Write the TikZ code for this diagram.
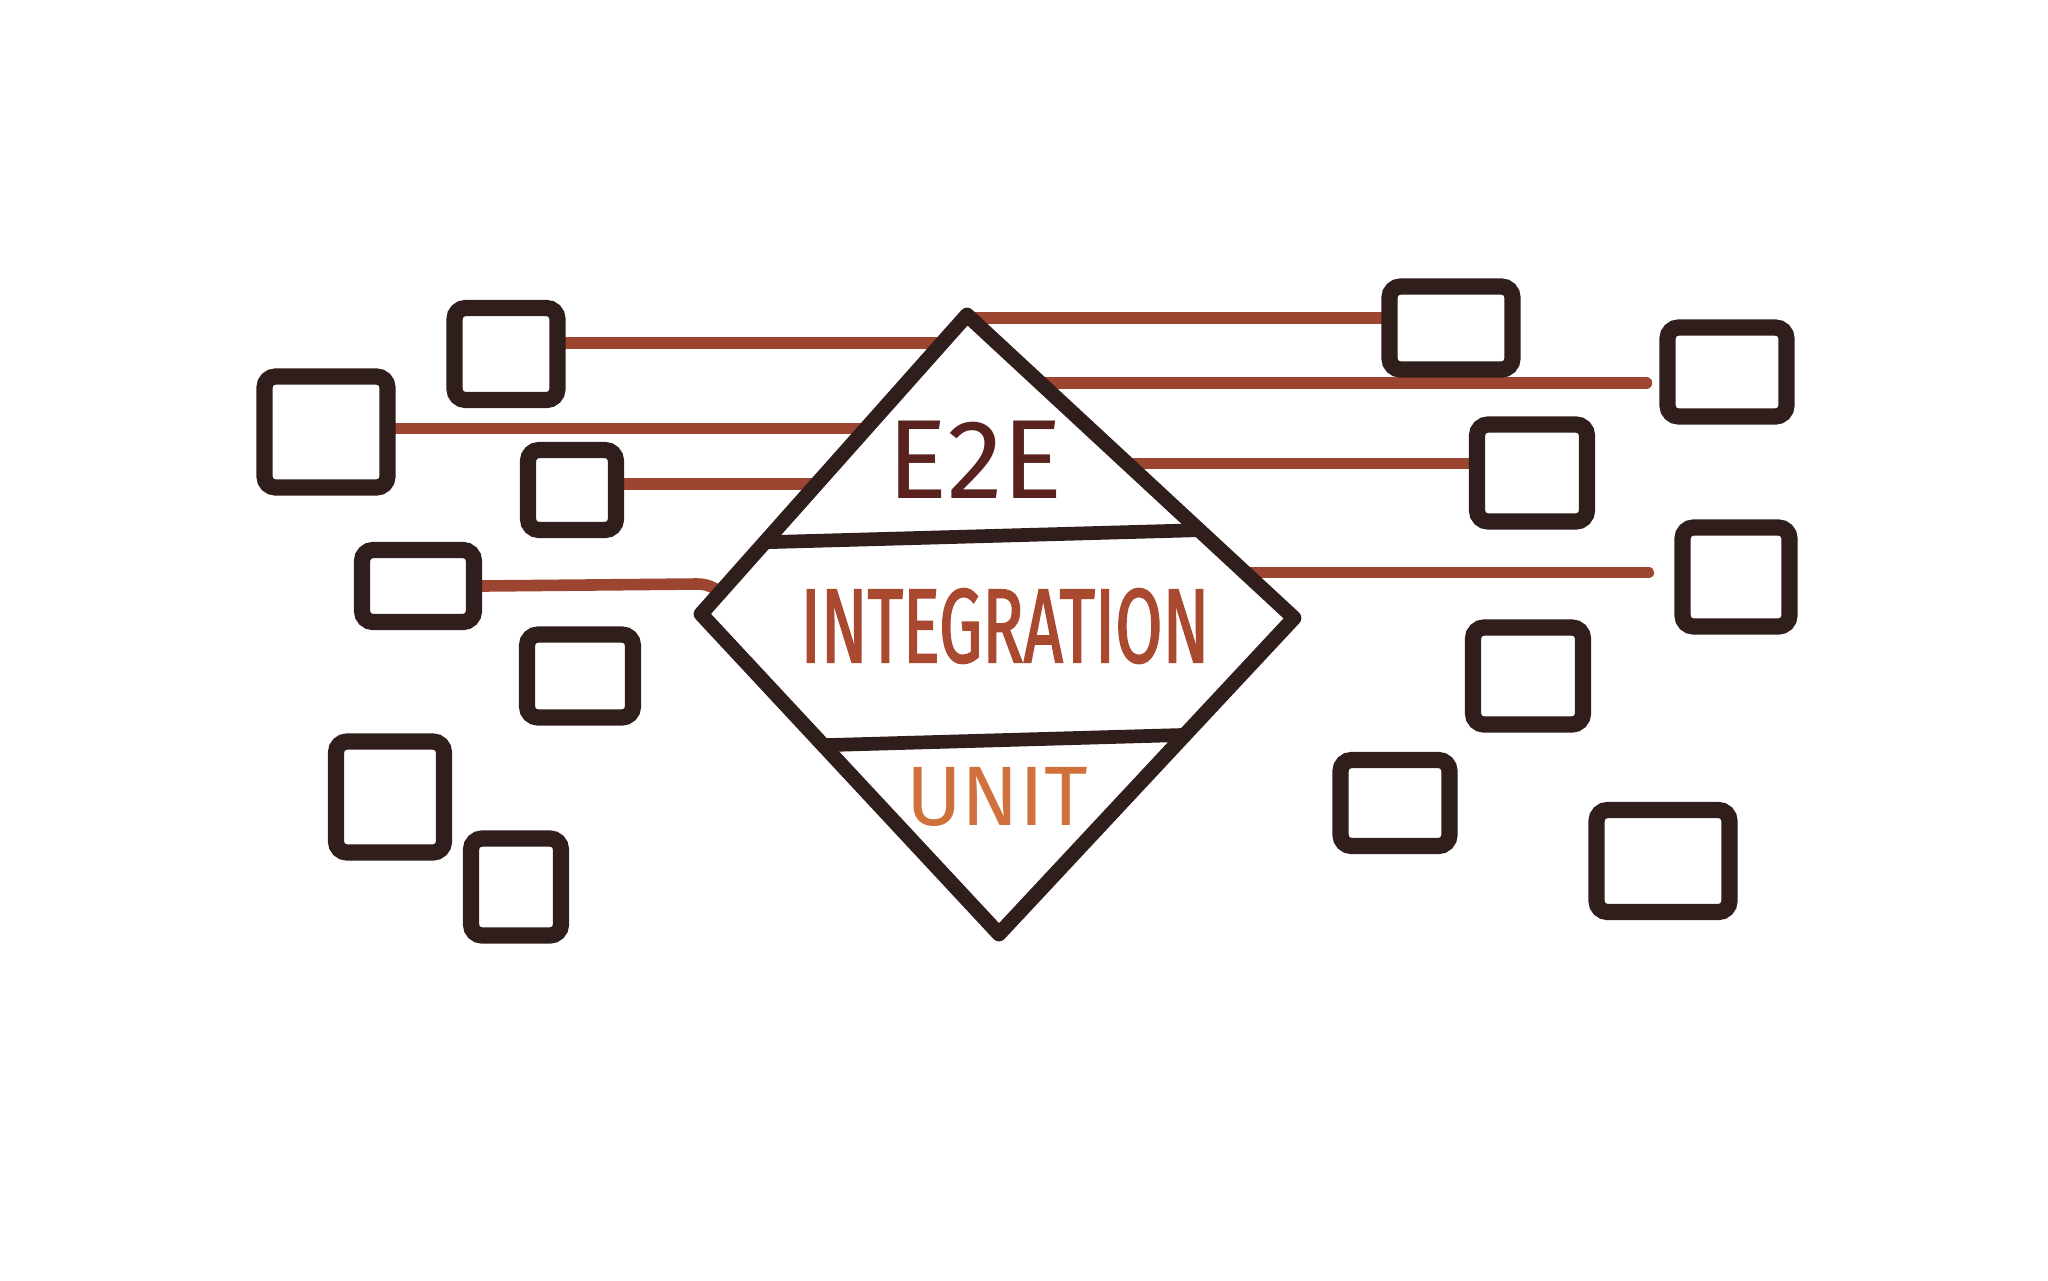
\documentclass[tikz,border=0pt]{standalone}
\usepackage{fontspec}
\setmainfont{Fira Sans}
\usepackage{tikz}
\usetikzlibrary{backgrounds,calc}
\definecolor{inkBrown}{HTML}{2F1E1C}
\definecolor{rustLine}{HTML}{9C4530}
\definecolor{e2eText}{HTML}{5A221E}
\definecolor{integText}{HTML}{A9492F}
\definecolor{unitText}{HTML}{D0703A}
\tikzset{
  testBox/.style={draw=inkBrown, line width=4.6pt, rounded corners=1.1mm, inner sep=0pt},
  testLink/.style={draw=rustLine, line width=3.3pt, line cap=round},
  testDiamond/.style={draw=inkBrown, line width=4.2pt, line join=round, line cap=round},
  testDivider/.style={draw=inkBrown, line width=3.9pt, line cap=round},
  testLevel/.style={inner sep=0pt, align=center}
}

\begin{document}
\begin{tikzpicture}[x=0.1mm, y=-0.1mm]
      \begin{scope}[on background layer]
        \fill[white] (0,0) rectangle (2048,1280);
      \end{scope}
      \useasboundingbox (0,0) rectangle (2048,1280);
      % pyramid corners
      \coordinate (dtop) at (967,315);
      \coordinate (dright) at (1294,618);
      \coordinate (dbottom) at (999,934);
      \coordinate (dleft) at (701,614);
      \draw[testDiamond] (dtop) -- (dright) -- (dbottom) -- (dleft) -- cycle;
      \draw[testDivider] ($(dtop)!0.76!(dleft)$) -- ($(dtop)!0.71!(dright)$);
      \draw[testDivider] ($(dleft)!0.41!(dbottom)$) -- ($(dright)!0.37!(dbottom)$);
      \node[testLevel, text=e2eText, font=\fontsize{32}{32}\selectfont] (e2e) at (975,460) {E2E};
      \node[testLevel, text=integText, font=\addfontfeature{FakeStretch=0.65,FakeBold=1.5}\fontsize{30}{30}\selectfont] (integration) at (1005,626) {INTEGRATION};
      \node[testLevel, text=unitText, font=\fontsize{24}{24}\selectfont] (unit) at (997,797) {UNIT};
      % left boxes
      \node[testBox, minimum width=10.3mm, minimum height=9.2mm] (l1) at (506,354) {};
      \node[testBox, minimum width=12.3mm, minimum height=11.1mm] (l2) at (326,432) {};
      \node[testBox, minimum width=8.8mm, minimum height=8mm] (l3) at (572,490) {};
      \node[testBox, minimum width=11.2mm, minimum height=7.2mm] (l4) at (418,586) {};
      \node[testBox, minimum width=10.6mm, minimum height=8.3mm] (l5) at (580,676) {};
      \node[testBox, minimum width=10.8mm, minimum height=11.1mm] (l6) at (390,797) {};
      \node[testBox, minimum width=9mm, minimum height=9.7mm] (l7) at (516,887) {};
      % right boxes
      \node[testBox, minimum width=12.3mm, minimum height=8.3mm] (r1) at (1451,328) {};
      \node[testBox, minimum width=11.9mm, minimum height=8.9mm] (r2) at (1727,372) {};
      \node[testBox, minimum width=11mm, minimum height=9.7mm] (r3) at (1532,473) {};
      \node[testBox, minimum width=10.7mm, minimum height=9.9mm] (r4) at (1736,577) {};
      \node[testBox, minimum width=11mm, minimum height=9.7mm] (r5) at (1528,676) {};
      \node[testBox, minimum width=10.9mm, minimum height=8.6mm] (r6) at (1395,803) {};
      \node[testBox, minimum width=13.3mm, minimum height=10.2mm] (r7) at (1663,861) {};
      % where the links meet the pyramid
      \coordinate (e1) at ($(dtop)!0.094!(dleft)$);
      \coordinate (e2) at ($(dtop)!0.38!(dleft)$);
      \coordinate (e3) at ($(dtop)!0.565!(dleft)$);
      \coordinate (e4) at ($(dtop)!0.926!(dleft)$);
      \coordinate (f1) at ($(dtop)!0.01!(dright)$);
      \coordinate (f2) at ($(dtop)!0.224!(dright)$);
      \coordinate (f3) at ($(dtop)!0.49!(dright)$);
      \coordinate (f4) at ($(dtop)!0.85!(dright)$);
      \begin{scope}[on background layer]
        \draw[testLink] (l1.east |- e1) -- (e1);
        \draw[testLink] (l2.east |- e2) -- (e2);
        \draw[testLink] (l3.east |- e3) -- (e3);
        \draw[testLink] (l4.east) -- ++(215,-2) to[out=0, in=150] (e4);
        \draw[testLink] (f1) -- (f1 -| r1.west);
        \draw[testLink, shorten >=1.3mm] (f2) -- (f2 -| r2.west);
        \draw[testLink] (f3) -- (f3 -| r3.west);
        \draw[testLink, shorten >=2.6mm] (f4) -- (f4 -| r4.west);
      \end{scope}
    \end{tikzpicture}
\end{document}
